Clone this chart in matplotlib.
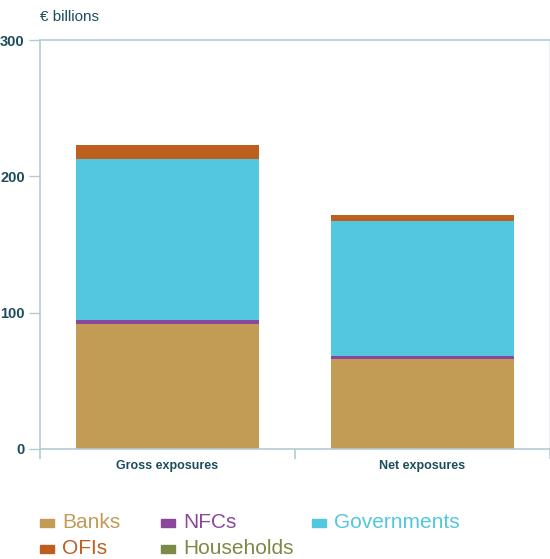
import matplotlib as mpl
import matplotlib.pyplot as plt
import numpy as np

mpl.rcParams['font.family'] = ['Liberation Sans Narrow', 'Liberation Sans', 'DejaVu Sans']

categories = ["Gross exposures", "Net exposures"]
sectors = ["Banks", "NFCs", "Governments", "Households", "OFIs"]
banks = [91.7, 66.0]
nfcs = [2.9, 2.2]
governments = [118.1, 99.0]
households = [0.0, 0.0]
ofis = [10.3, 4.4]

colors = {
    "Banks": "#c29b55",
    "NFCs": "#8b4799",
    "Governments": "#53c6e0",
    "Households": "#7b8a47",
    "OFIs": "#bd5f1f",
}
series = {
    "Banks": banks,
    "NFCs": nfcs,
    "Governments": governments,
    "Households": households,
    "OFIs": ofis,
}

text_col = "#1c4d5c"
axis_col = "#b4cbd2"

fig = plt.figure(figsize=(5.5, 5.59), dpi=100)
ax = fig.add_axes([40 / 550, 110 / 559, 510 / 550, 409 / 559])

x = np.arange(len(categories))
bottom = np.zeros(len(categories))
for name in sectors:
    vals = np.array(series[name])
    ax.bar(x, vals, width=0.72, bottom=bottom, color=colors[name], linewidth=0)
    bottom += vals

ax.set_xlim(-0.5, 1.5)
ax.set_ylim(0, 300)
ax.set_yticks([0, 100, 200, 300])
ax.set_xticks([-0.5, 0.5, 1.5])
ax.set_xticklabels([])
ax.set_xticks(x, minor=True)
ax.set_xticklabels(categories, minor=True)
ax.tick_params(axis='x', which='minor', length=0, pad=8, labelsize=9, labelcolor=text_col)
ax.tick_params(axis='x', which='major', length=7, color=axis_col, width=1.2)
ax.tick_params(axis='y', length=8, color=axis_col, width=1, pad=3, labelsize=10.5, labelcolor=text_col)
for lbl in ax.get_yticklabels() + ax.get_xticklabels(minor=True):
    lbl.set_fontweight('bold')

for side in ['left', 'top', 'bottom']:
    ax.spines[side].set_color(axis_col)
    ax.spines[side].set_linewidth(1.2)
ax.spines['right'].set_color("#e3ecef")
ax.spines['right'].set_linewidth(1.2)

fig.text(40 / 550, 1 - 17 / 559, "€ billions", color=text_col, fontsize=11,
         ha='left', va='center', family=['Liberation Sans', 'DejaVu Sans'])

# legend laid out by hand in two rows
legend_rows = [
    [("Banks", 40), ("NFCs", 161), ("Governments", 312)],
    [("OFIs", 40), ("Households", 161)],
]
for row, yy in zip(legend_rows, [523, 549]):
    for name, xx in row:
        fig.patches.append(mpl.patches.Rectangle(
            (xx / 550, 1 - (yy + 4) / 559), 14 / 550, 8 / 559,
            transform=fig.transFigure, color=colors[name]))
        fig.text((xx + 22) / 550, 1 - yy / 559, name, color=colors[name],
                 fontsize=15, ha='left', va='center',
                 family=['Liberation Sans', 'DejaVu Sans'])

fig.savefig("out.png", dpi=100)
